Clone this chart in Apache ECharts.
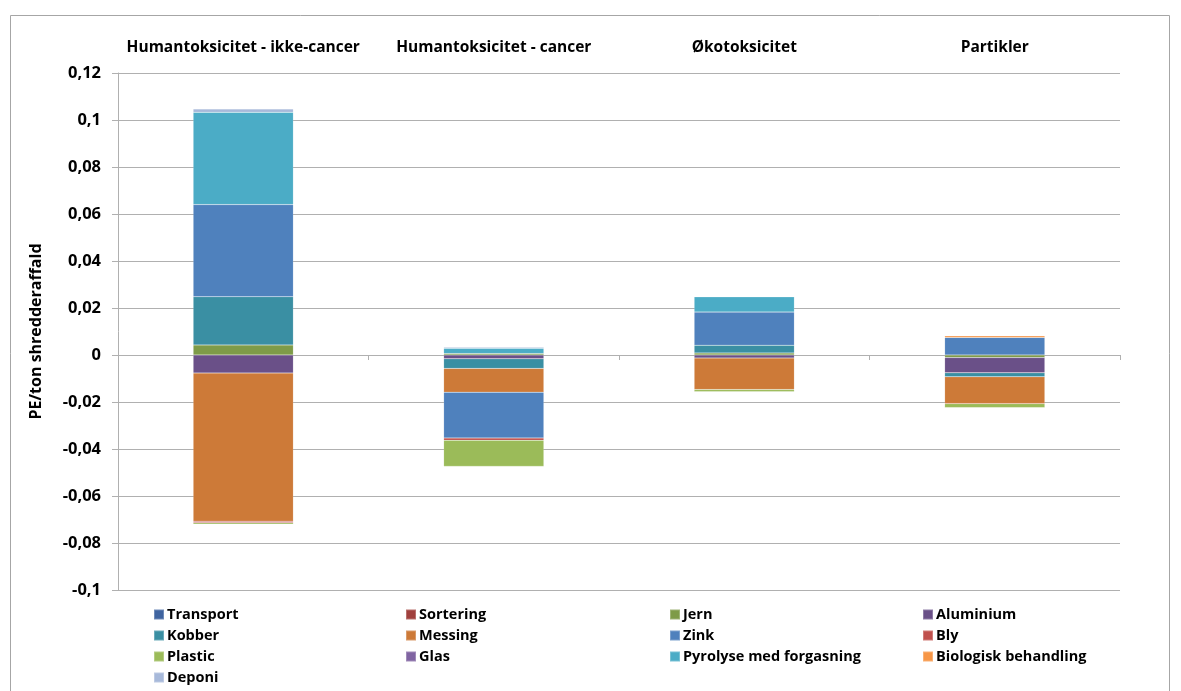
<!DOCTYPE html>
<html>
<head>
<meta charset="utf-8">
<script src="https://cdn.jsdelivr.net/npm/echarts@6/dist/echarts.min.js"></script>
<style>
  html, body { margin: 0; padding: 0; background: #fff; }
  #chart { width: 1181px; height: 691px; }
</style>
</head>
<body>
<div id="chart"></div>
<script>
// Impact categories (column headings above the plot)
const categories = ['Humantoksicitet - ikke-cancer', 'Humantoksicitet - cancer', 'Økotoksicitet', 'Partikler'];

// Contribution per fraction, PE/ton shredderaffald, one value per category
const transport = [0, 0, 0, 0];
const sortering = [0, 0, 0, 0];
const jern      = [0.0043, 0.0006, 0.0009, -0.0011];
const aluminium = [-0.0077, -0.0016, -0.0013, -0.0065];
const kobber    = [0.0205, -0.0041, 0.0033, -0.0017];
const messing   = [-0.0630, -0.0101, -0.0134, -0.0114];
const zink      = [0.0392, -0.0195, 0.0141, 0.0075];
const bly       = [-0.0007, -0.0010, 0, 0];
const plastic   = [-0.0006, -0.0111, -0.0009, -0.0017];
const glas      = [0, 0, 0, 0];
const pyrolyse  = [0.0393, 0.0023, 0.0065, 0];
const biologisk = [0, 0, 0, 0.0007];
const deponi    = [0.0014, 0.0004, 0.0002, 0];

// Value axis ticks
const yMin = -0.1, yMax = 0.12, yStep = 0.02;

const seriesDefs = [
  ['Transport', transport, '#3F64A0'],
  ['Sortering', sortering, '#A0403D'],
  ['Jern', jern, '#7E9B48'],
  ['Aluminium', aluminium, '#6A5088'],
  ['Kobber', kobber, '#3A8FA3'],
  ['Messing', messing, '#CD7A38'],
  ['Zink', zink, '#4F81BD'],
  ['Bly', bly, '#C0504D'],
  ['Plastic', plastic, '#9BBB59'],
  ['Glas', glas, '#8064A2'],
  ['Pyrolyse med forgasning', pyrolyse, '#4BACC6'],
  ['Biologisk behandling', biologisk, '#F79646'],
  ['Deponi', deponi, '#A7B9DA']
];

const font = '"Open Sans", "Liberation Sans", sans-serif';
const gridLine = '#B0B0B0';

const legendColumns = [
  { left: 148, names: ['Transport', 'Kobber', 'Plastic', 'Deponi'] },
  { left: 400, names: ['Sortering', 'Messing', 'Glas'] },
  { left: 664, names: ['Jern', 'Zink', 'Pyrolyse med forgasning'] },
  { left: 917, names: ['Aluminium', 'Bly', 'Biologisk behandling'] }
];

const chart = echarts.init(document.getElementById('chart'), null, { renderer: 'canvas' });

chart.setOption({
  backgroundColor: '#ffffff',
  animation: false,
  textStyle: { fontFamily: font },
  graphic: [{
    type: 'rect',
    shape: { x: 10.5, y: 15.5, width: 1159, height: 700 },
    style: { fill: 'none', stroke: '#A6A6A6', lineWidth: 1 },
    silent: true
  }],
  grid: { left: 118, right: 61, top: 73, bottom: 101 },
  legend: legendColumns.map(col => ({
    orient: 'vertical',
    left: col.left,
    top: 602,
    itemWidth: 10,
    itemHeight: 10,
    itemGap: 6,
    icon: 'rect',
    selectedMode: false,
    data: col.names,
    textStyle: { fontFamily: font, fontWeight: 'bold', fontSize: 14.5, color: '#000', padding: [0, 0, 0, -2] }
  })),
  xAxis: [{
    type: 'category',
    data: categories,
    position: 'top',
    axisLine: { show: false, onZero: false },
    axisTick: { show: false },
    axisLabel: { interval: 0, margin: 17, fontFamily: font, fontWeight: 'bold', fontSize: 15.5, color: '#000' },
    splitLine: { show: false }
  }, {
    type: 'category',
    data: categories,
    position: 'bottom',
    axisLine: { show: true, onZero: true, lineStyle: { color: gridLine } },
    axisTick: { show: true, length: 5, lineStyle: { color: gridLine } },
    axisLabel: { show: false },
    splitLine: { show: false }
  }],
  yAxis: {
    type: 'value',
    min: yMin,
    max: yMax,
    interval: yStep,
    name: 'PE/ton shredderaffald',
    nameLocation: 'middle',
    nameGap: 74,
    nameRotate: 90,
    nameTextStyle: { fontFamily: font, fontWeight: 'bold', fontSize: 16, color: '#000' },
    axisLine: { show: true, lineStyle: { color: gridLine } },
    axisTick: { show: true, length: 6, lineStyle: { color: gridLine } },
    axisLabel: {
      margin: 17,
      fontFamily: font,
      fontWeight: 'bold',
      fontSize: 16.5,
      color: '#000',
      formatter: v => String(parseFloat(v.toFixed(2))).replace('.', ',')
    },
    splitLine: { show: true, lineStyle: { color: gridLine, width: 1 } }
  },
  series: seriesDefs.map(([name, values, color]) => ({
    name: name,
    type: 'bar',
    xAxisIndex: 0,
    stack: 'total',
    barWidth: '40%',
    data: values,
    itemStyle: { color: color, borderColor: 'rgba(255,255,255,0.25)', borderWidth: 0.5 },
    emphasis: { disabled: true }
  }))
});
</script>
</body>
</html>
